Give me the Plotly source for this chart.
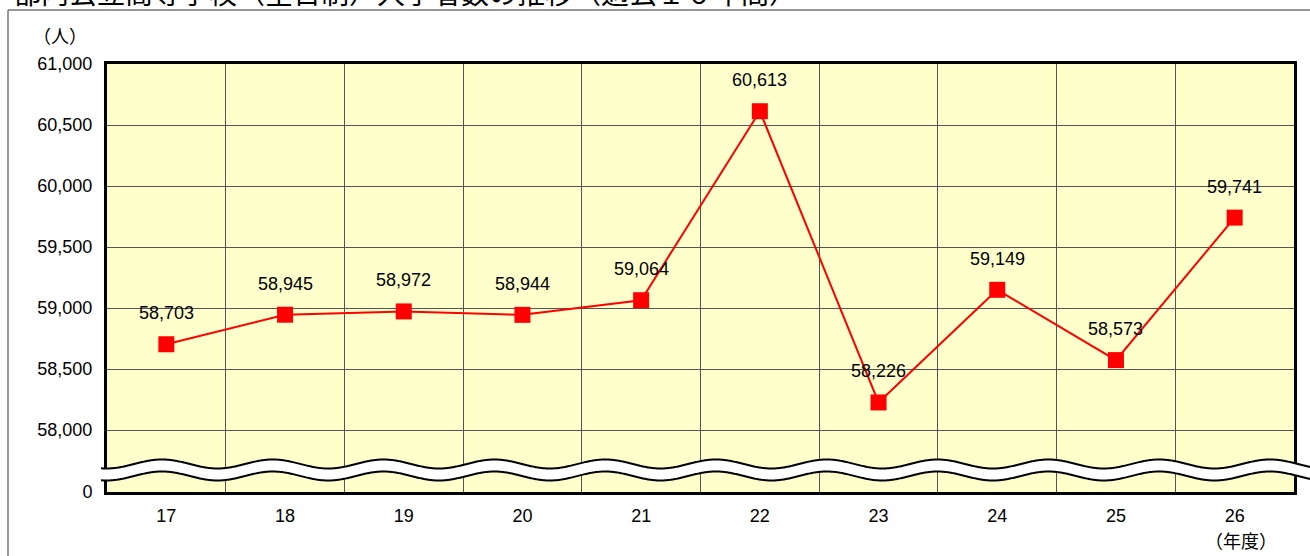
import numpy as np
import plotly.graph_objects as go

# ---------------- data ----------------
years = ["17", "18", "19", "20", "21", "22", "23", "24", "25", "26"]
students = [58703, 58945, 58972, 58944, 59064, 60613, 58226, 59149, 58573, 59741]
y_tick_values = [58000, 58500, 59000, 59500, 60000, 60500, 61000]
y_tick_labels = ["58,000", "58,500", "59,000", "59,500", "60,000", "60,500", "61,000"]
zero_label = "0"
unit_label = "（人）"
x_unit_label = "（年度）"
title_text = "都内公立高等学校（全日制）入学者数の推移（過去１０年間）"

# ---------------- geometry ----------------
W, H = 1310, 556
L, R, T, B = 107, 1294, 64, 492
AX_TOP = 61000
AX_BOTTOM = 57492  # position standing for 0 (axis break below 58,000)

def px(xp):
    return (xp - L) / (R - L)

def py(yp):
    return (B - yp) / (B - T)

FONT = "Liberation Sans, Arial, Noto Sans CJK JP, sans-serif"

fig = go.Figure()
fig.add_trace(go.Scatter(
    x=years, y=students, mode="lines+markers",
    line=dict(color="#FF0000", width=2),
    marker=dict(symbol="square", size=16, color="#FF0000"),
    hoverinfo="x+y", showlegend=False,
))

annotations = []
for i, v in enumerate(students):
    annotations.append(dict(
        x=i, y=v, xref="x", yref="y", text=f"{v:,}", showarrow=False,
        xanchor="center", yanchor="middle",
        yshift=31, font=dict(size=18, color="#000000", family=FONT),
    ))
annotations.append(dict(x=px(60), y=py(37), xref="paper", yref="paper",
                        xanchor="center", yanchor="middle",
                        text=unit_label, showarrow=False,
                        font=dict(size=18, color="#000", family=FONT)))
annotations.append(dict(x=px(1241), y=py(542), xref="paper", yref="paper",
                        xanchor="center", yanchor="middle",
                        text=x_unit_label, showarrow=False,
                        font=dict(size=18, color="#000", family=FONT)))
annotations.append(dict(x=px(405), y=py(-6), xref="paper", yref="paper",
                        xanchor="center", yanchor="middle",
                        text=title_text, showarrow=False,
                        font=dict(size=28, color="#000", family=FONT)))

# ---------------- decorations: frame and axis break ----------------
shapes = []
shapes.append(dict(type="rect", xref="paper", yref="paper",
                   x0=px(8), x1=px(1330), y0=py(10), y1=py(600),
                   line=dict(color="#333333", width=1), fillcolor="rgba(0,0,0,0)",
                   layer="below"))

xs = np.arange(101, 1313, 1.0)
period, crest = 110.8, 162.0
wave = np.cos(2 * np.pi * (xs - crest) / period)
ytop = 464 - 4.5 * wave
ybot = 476 - 4.5 * wave

def path_of(xa, ya):
    return "M " + " L ".join(f"{px(a):.5f},{py(b):.5f}" for a, b in zip(xa, ya))

band = path_of(np.concatenate([xs, xs[::-1]]), np.concatenate([ytop, ybot[::-1]])) + " Z"
shapes.append(dict(type="path", xref="paper", yref="paper", path=band,
                   fillcolor="#FFFFFF", line=dict(width=0), layer="above"))
for yy in (ytop, ybot):
    shapes.append(dict(type="path", xref="paper", yref="paper", path=path_of(xs, yy),
                       line=dict(color="#000000", width=2), layer="above"))

fig.update_layout(
    width=W, height=H,
    margin=dict(l=L, r=W - R, t=T, b=H - B, pad=0),
    paper_bgcolor="#FFFFFF", plot_bgcolor="#FFFFCC",
    font=dict(family=FONT, size=18, color="#000000"),
    annotations=annotations, shapes=shapes, showlegend=False,
)
fig.update_xaxes(
    type="category", range=[-0.5, 9.5], tickson="boundaries",
    showgrid=True, gridcolor="#555555", gridwidth=1,
    showline=True, linecolor="#000000", linewidth=3, mirror=True,
    ticks="", ticklabelstandoff=5, tickfont=dict(size=18),
    zeroline=False,
)
fig.update_yaxes(
    range=[AX_BOTTOM, AX_TOP],
    tickvals=[AX_BOTTOM] + y_tick_values, ticktext=[zero_label] + y_tick_labels,
    showgrid=True, gridcolor="#555555", gridwidth=1,
    showline=True, linecolor="#000000", linewidth=3, mirror=True,
    ticks="", ticklabelstandoff=8, tickfont=dict(size=18),
    zeroline=False,
)

fig.write_html(
    "out.html",
    config={"displayModeBar": False},
    post_script="document.body.style.margin='0';document.body.style.overflow='hidden';",
)
